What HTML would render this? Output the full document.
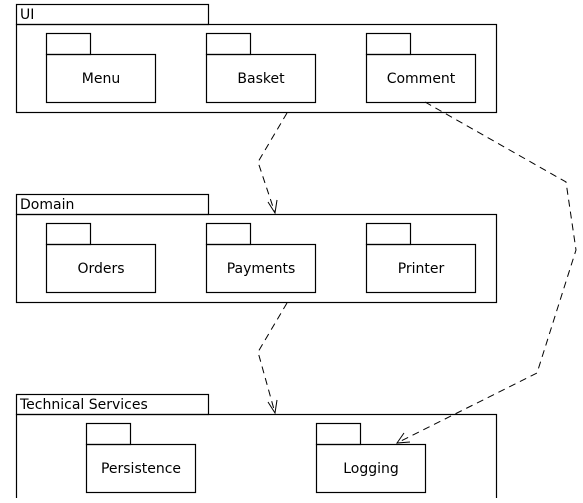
<!DOCTYPE html>
<html><head><style>
body{margin:0;background:#fff;width:583px;height:498px;overflow:hidden}
text{font-family:"DejaVu Sans","Liberation Sans",sans-serif;font-size:14px;fill:#000}
</style></head><body>
<svg width="583" height="498" xmlns="http://www.w3.org/2000/svg">
<g fill="none" stroke="#000" stroke-width="1.2">
<rect x="16.5" y="4.5" width="192" height="20"/><rect x="16.5" y="24.5" width="480" height="88"/>
<rect x="46.5" y="33.5" width="44" height="21"/><rect x="46.5" y="54.5" width="109" height="48"/>
<rect x="206.5" y="33.5" width="44" height="21"/><rect x="206.5" y="54.5" width="109" height="48"/>
<rect x="366.5" y="33.5" width="44" height="21"/><rect x="366.5" y="54.5" width="109" height="48"/>
<rect x="16.5" y="194.5" width="192" height="20"/><rect x="16.5" y="214.5" width="480" height="88"/>
<rect x="46.5" y="223.5" width="44" height="21"/><rect x="46.5" y="244.5" width="109" height="48"/>
<rect x="206.5" y="223.5" width="44" height="21"/><rect x="206.5" y="244.5" width="109" height="48"/>
<rect x="366.5" y="223.5" width="44" height="21"/><rect x="366.5" y="244.5" width="109" height="48"/>
<rect x="16.5" y="394.5" width="192" height="20"/><rect x="16.5" y="414.5" width="480" height="90"/>
<rect x="86.5" y="423.5" width="44" height="21"/><rect x="86.5" y="444.5" width="109" height="48"/>
<rect x="316.5" y="423.5" width="44" height="21"/><rect x="316.5" y="444.5" width="109" height="48"/>
</g>
<g fill="none" stroke="#000" stroke-width="1" stroke-dasharray="7,5">
<polyline points="287,113 258,162 275,213"/>
<polyline points="287,303 258,352 275,413"/>
<polyline points="425,102 566,182 576,250 537,373 397,443"/>
</g>
<g fill="none" stroke="#000" stroke-width="1">
<polyline points="268,202 275,213 277,200"/>
<polyline points="268,402 275,413 277,400"/>
<polyline points="404,433 397,443 410,442"/>
</g>
<text x="20" y="19">UI</text>
<text x="20" y="209">Domain</text>
<text x="20" y="409">Technical Services</text>
<text x="101" y="83" text-anchor="middle">Menu</text>
<text x="261" y="83" text-anchor="middle">Basket</text>
<text x="421" y="83" text-anchor="middle">Comment</text>
<text x="101" y="273" text-anchor="middle">Orders</text>
<text x="261" y="273" text-anchor="middle">Payments</text>
<text x="421" y="273" text-anchor="middle">Printer</text>
<text x="141" y="473" text-anchor="middle">Persistence</text>
<text x="371" y="473" text-anchor="middle">Logging</text>
</svg>
</body></html>
